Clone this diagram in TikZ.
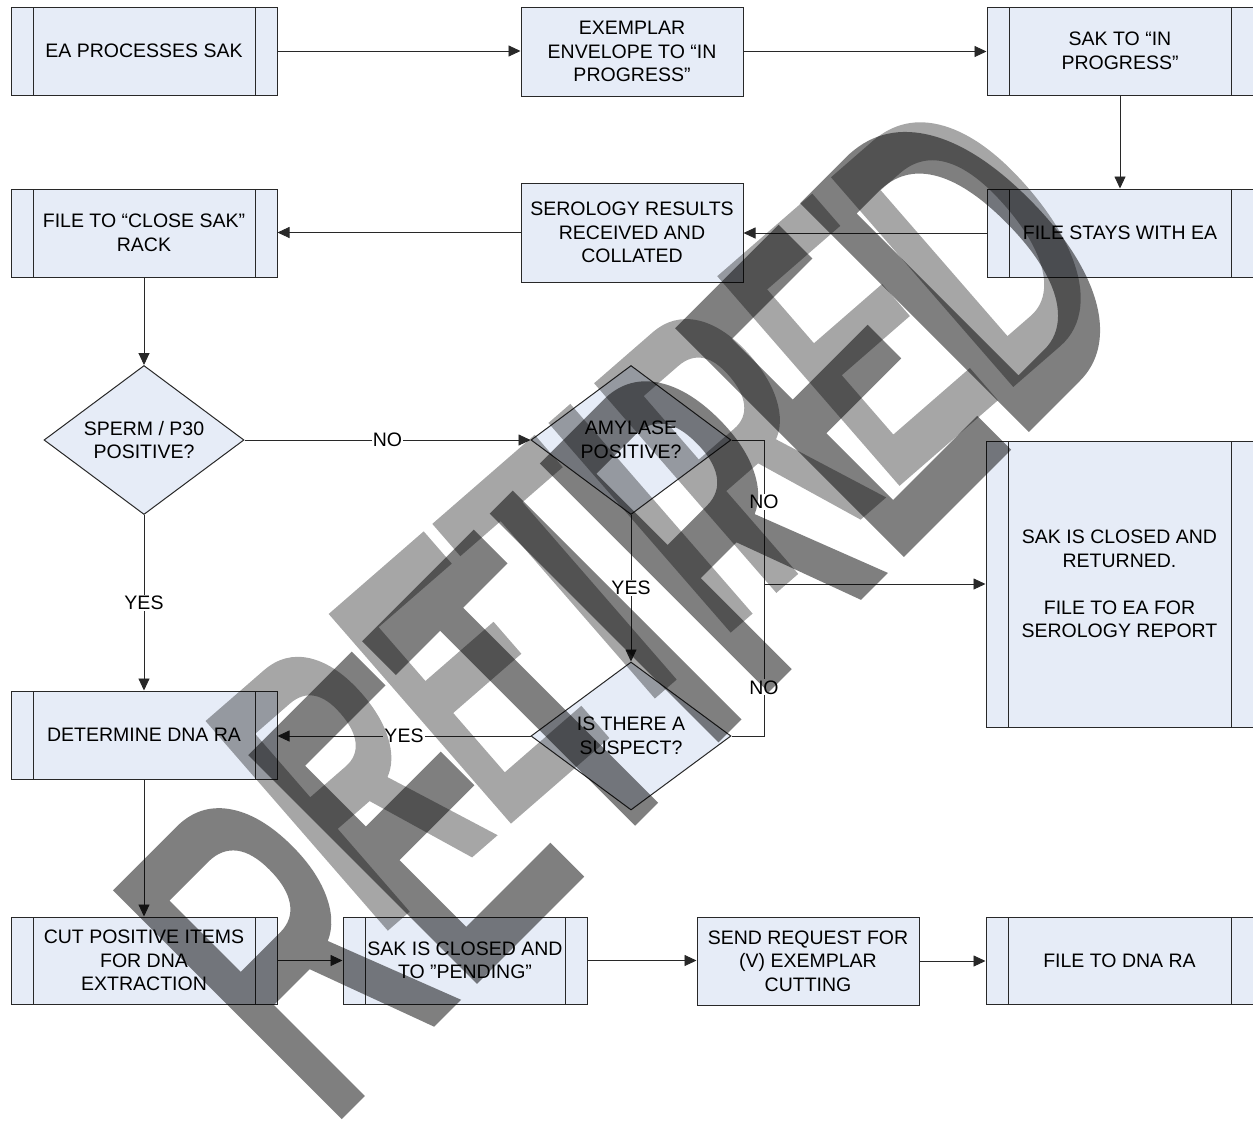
\documentclass[tikz,border=0pt]{standalone}
\usepackage{fontspec}
\setmainfont{Liberation Sans}
\newfontfamily\wmfontd[FakeBold=3]{Liberation Sans}
\newfontfamily\wmfontl[FakeBold=3.5]{Liberation Sans}
\usetikzlibrary{shapes.geometric,arrows.meta,calc}
\definecolor{boxfill}{RGB}{230,236,247}
\definecolor{edge}{RGB}{40,40,40}
\tikzset{
  every node/.style={font=\fontsize{19.5}{23.5}\selectfont},
  box/.style={draw=edge, line width=1pt, fill=boxfill, align=center, inner sep=0pt},
  plainbox/.style={box, minimum width=222pt, minimum height=88pt},
  predef/.style={box, minimum width=266pt, minimum height=88pt,
    path picture={\draw[edge,line width=1pt]
      ([xshift=22pt]path picture bounding box.north west) -- ([xshift=22pt]path picture bounding box.south west)
      ([xshift=-22pt]path picture bounding box.north east) -- ([xshift=-22pt]path picture bounding box.south east);}},
  decision/.style={box, diamond, minimum width=200pt, minimum height=149pt, aspect=1.34},
  arr/.style={draw=edge, line width=0.9pt, -{Triangle[length=12pt,width=11pt]}},
  conn/.style={draw=edge, line width=0.9pt},
  lbl/.style={fill=white, inner sep=1pt},
  wmdark/.style={rotate=45, text=black, inner sep=0pt, font=\wmfontd\fontsize{265}{265}\selectfont},
  wmlight/.style={rotate=41, text=black, inner sep=0pt, font=\wmfontl\fontsize{226}{226}\selectfont}
}
\begin{document}
\begin{tikzpicture}[x=1pt,y=-1pt]
\useasboundingbox (0,0) rectangle (1253,1122);
\fill[white] (0,0) rectangle (1253,1122);

% row 1
\node[predef] (ea) at (144,51) {EA PROCESSES SAK};
\node[plainbox, minimum height=89pt] (ex) at (632,51.5) {EXEMPLAR\\ENVELOPE TO “IN\\PROGRESS”};
\node[predef] (sakip) at (1120,51) {SAK TO “IN\\PROGRESS”};
% row 2
\node[predef] (stays) at (1120,233) {FILE STAYS WITH EA};
\node[plainbox, minimum height=99pt] (sero) at (632,232.5) {SEROLOGY RESULTS\\RECEIVED AND\\COLLATED};
\node[predef] (close) at (144,233) {FILE TO “CLOSE SAK”\\RACK};
% decisions
\node[decision] (sperm) at (144,440) {SPERM / P30\\POSITIVE?};
\node[decision] (amy) at (631,440) {AMYLASE\\POSITIVE?};
\node[decision, minimum height=148pt] (susp) at (631,736) {IS THERE A\\SUSPECT?};
% right big box
\node[predef, minimum width=267pt, minimum height=286pt] (ret) at (1119.5,584)
  {SAK IS CLOSED AND\\RETURNED.\\[23.5pt]FILE TO EA FOR\\SEROLOGY REPORT};
\node[predef] (dna) at (144,735) {DETERMINE DNA RA};
% bottom row
\node[predef, minimum height=87pt] (cut) at (144,960.5) {CUT POSITIVE ITEMS\\FOR DNA\\EXTRACTION};
\node[predef, minimum width=244pt, minimum height=87pt] (pend) at (465,960.5) {SAK IS CLOSED AND\\TO "PENDING”};
\node[plainbox] (send) at (808,961) {SEND REQUEST FOR\\(V) EXEMPLAR\\CUTTING};
\node[predef, minimum width=267pt, minimum height=87pt] (dnara) at (1119.5,960.5) {FILE TO DNA RA};

\coordinate (j) at (764,584);

% connectors
\draw[arr] (ea.east) -- (ea.east -| ex.west);
\draw[arr] (ex.east) -- (ex.east -| sakip.west);
\draw[arr] (sakip.south) -- (stays.north);
\draw[arr] (stays.west) -- (stays.west -| sero.east);
\draw[arr] (sero.west) -- (sero.west -| close.east);
\draw[arr] (close.south) -- (sperm.north);
\draw[arr] (sperm.east) -- node[lbl] {NO} (amy.west);
\draw[arr] (sperm.south) -- node[lbl] {YES} (dna.north);
\draw[arr] (amy.south) -- node[lbl] {YES} (susp.north);
\draw[conn] (amy.east) -| node[lbl, pos=0.715] {NO} (j);
\draw[conn] (susp.east) -| node[lbl, pos=0.66] {NO} (j);
\draw[arr] (j) -- (j -| ret.west);
\draw[arr] (susp.west) -- node[lbl] {YES} (susp.west -| dna.east);
\draw[arr] (dna.south) -- (cut.north);
\draw[arr] (cut.east) -- (pend.west);
\draw[arr] (pend.east) -- (pend.east -| send.west);
\draw[arr] (send.east) -- (send.east -| dnara.west);

% watermark: two translucent layers of the word
\begin{scope}[opacity=0.5]
  \begin{scope}[transparency group]
    \node[wmdark] (wmd) at (626,606) {\scalebox{1}[1.7]{RETIRED}};
  \end{scope}
\end{scope}
\begin{scope}[opacity=0.35]
  \begin{scope}[transparency group]
    \node[wmlight] (wml) at (660,510) {\scalebox{1}[1.7]{RETIRED}};
  \end{scope}
\end{scope}
\end{tikzpicture}
\end{document}
